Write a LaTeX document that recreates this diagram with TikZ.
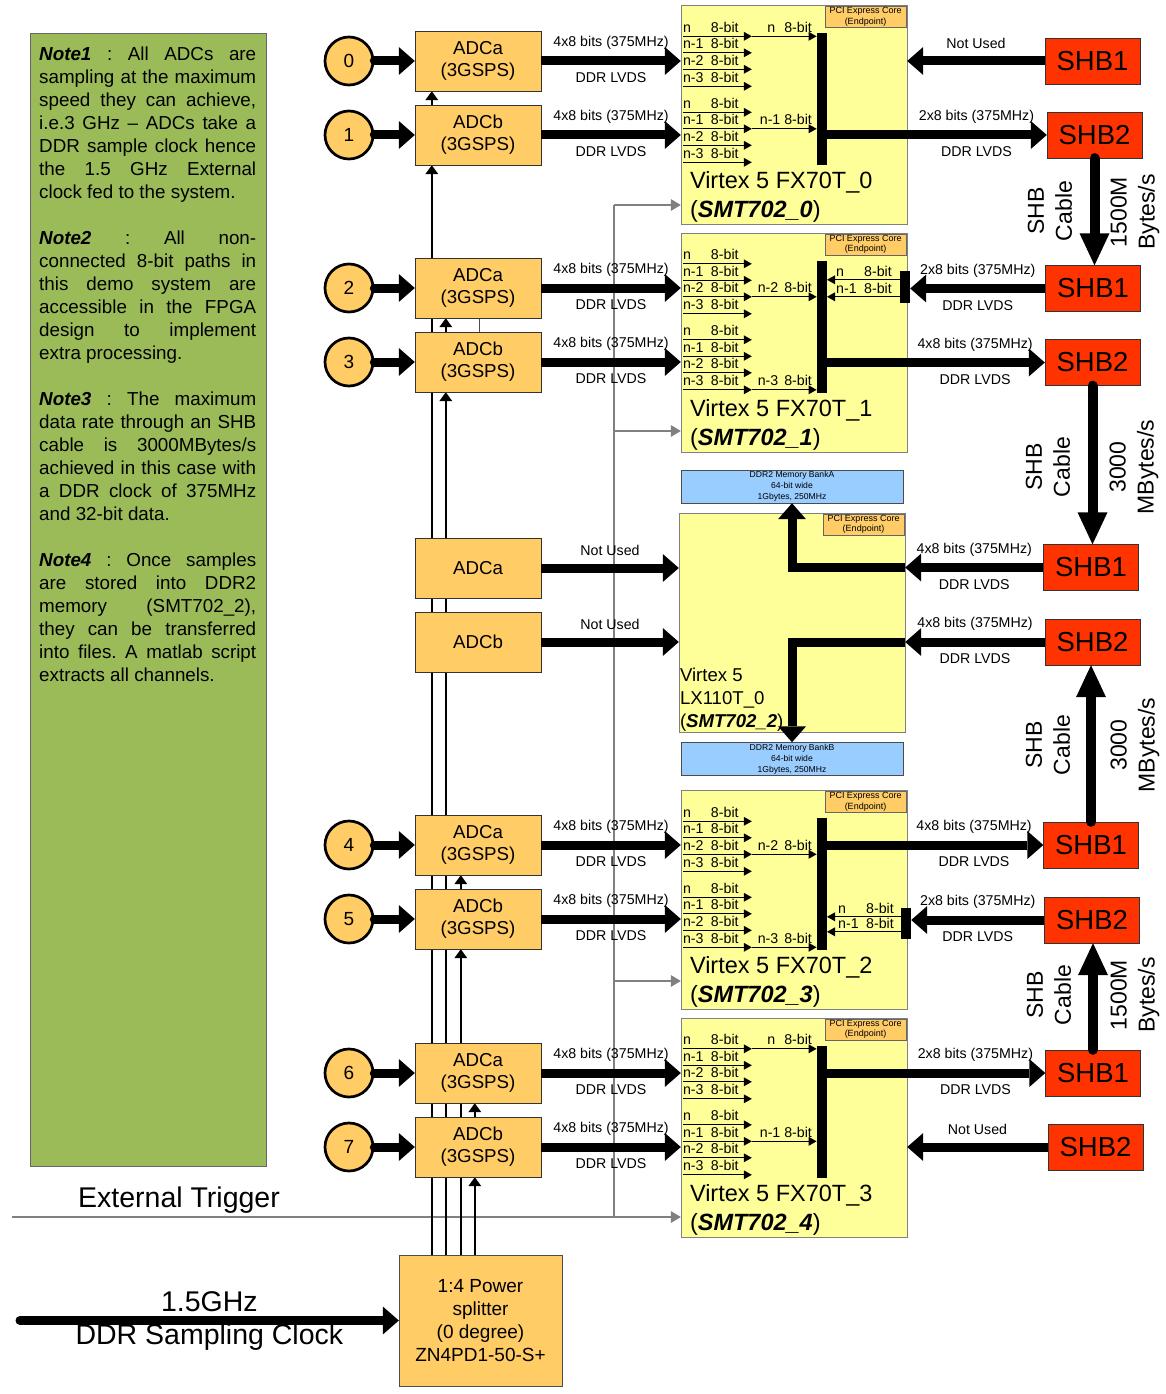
\documentclass[tikz,border=0pt]{standalone}
\usepackage{fontspec}
\setmainfont{Liberation Sans}
\usepackage{tikz}
\usetikzlibrary{arrows.meta,calc,backgrounds}
\definecolor{adcorange}{HTML}{FFCC66}
\definecolor{fpgayellow}{HTML}{FFFF99}
\definecolor{shbred}{HTML}{FF3300}
\definecolor{memblue}{HTML}{99CCFF}
\definecolor{notegreen}{HTML}{9BBB59}
\definecolor{wiregray}{HTML}{808080}
\newcommand\fsz[2]{\fontsize{#1}{#2}\selectfont}
\newcommand\bitlabel[1]{\makebox[28pt][l]{#1}8-bit}
\tikzset{
  adcbox/.style={draw=black!80, fill=adcorange, minimum width=126pt, minimum height=60pt,
                 align=center, font=\fsz{18.7}{22}},
  chan/.style={circle, draw, line width=2.7pt, fill=adcorange, minimum size=48pt,
               inner sep=0pt, font=\fsz{19}{22}},
  fpgabox/.style={draw=black!50, fill=fpgayellow, minimum width=226pt, minimum height=219pt},
  pcibox/.style={draw=black!60, fill=adcorange, minimum width=81pt, minimum height=21pt,
                 inner sep=0pt, align=center, font=\fsz{9}{10.5}},
  membox/.style={draw=black!70, fill=memblue, minimum width=222pt, minimum height=33pt,
                 inner sep=0pt, align=center, font=\fsz{8.6}{10.8}},
  shbbox/.style={draw=black!80, fill=shbred, minimum width=95pt, minimum height=46pt,
                 font=\fsz{27.5}{30}},
  splitbox/.style={draw=black!70, fill=adcorange, minimum width=163pt, minimum height=131pt,
                   align=center, font=\fsz{19}{23}},
  notepanel/.style={draw=black!60, fill=notegreen, minimum width=236pt, minimum height=1133pt},
  bar/.style={fill=black, minimum width=10pt, inner sep=0pt},
  bus/.style={line width=9pt, -{Triangle[width=28pt,length=16pt,line width=0pt]}},
  cable/.style={line width=10pt, line cap=round, -{Triangle[width=30pt,length=32pt,line width=0pt]}},
  lane/.style={line width=1.3pt, -{Triangle[width=9pt,length=8pt,line width=0pt]}},
  clk/.style={line width=2.6pt, -{Triangle[width=13pt,length=9pt,line width=0pt]}},
  trigline/.style={draw=wiregray, line width=2.2pt, -{Triangle[width=12pt,length=10pt,line width=0pt]}},
  graywire/.style={draw=wiregray, line width=2.2pt},
  lbl/.style={font=\fsz{14.2}{16}},
  bitlbl/.style={font=\fsz{14.2}{16}, inner sep=0pt},
  cablelbl/.style={rotate=90, align=center, font=\fsz{23}{28}},
  bigtxt/.style={font=\fsz{28.5}{31}},
  fpgatxt/.style={align=left, inner sep=0pt, font=\fsz{23.5}{29}}
}
\newcommand\fpgalanes[1]{%
  \foreach \dy/\nm in {31/n,47.5/n-1,64/n-2,81/n-3,107/n,123.5/n-1,140/n-2,157/n-3}{%
    \draw[lane] ($(#1.north west)+(2,\dy)$) -- ++(69,0);
    \node[bitlbl, anchor=base west] at ($(#1.north west)+(2,\dy-4)$) {\bitlabel{\nm}};
  }}

\begin{document}
\begin{tikzpicture}[x=1pt, y=-1pt]
  \useasboundingbox (0,0) rectangle (1166,1394);
  \def\xC{349} \def\xA{478}

  % Notes
  \node[notepanel] (notes) at (148,599.5) {};
  \node[anchor=north west, inner sep=0pt, text width=217pt, align=justify,
        font=\fsz{18.8}{23}\frenchspacing] (notetxt) at (39,47) {%
    \textbf{\textit{Note1}} : All ADCs are\linebreak
    sampling at the maximum\linebreak
    speed they can achieve,\linebreak
    i.e.3 GHz – ADCs take a\linebreak
    DDR sample clock hence\linebreak
    the 1.5 GHz External\linebreak
    clock fed to the system.\\[23pt]
    \textbf{\textit{Note2}} : All non-\linebreak
    connected 8-bit paths in\linebreak
    this demo system are\linebreak
    accessible in the FPGA\linebreak
    design to implement\linebreak
    extra processing.\\[23pt]
    \textbf{\textit{Note3}} : The maximum\linebreak
    data rate through an SHB\linebreak
    cable is 3000MBytes/s\linebreak
    achieved in this case with\linebreak
    a DDR clock of 375MHz\linebreak
    and 32-bit data.\\[23pt]
    \textbf{\textit{Note4}} : Once samples\linebreak
    are stored into DDR2\linebreak
    memory (SMT702\_2),\linebreak
    they can be transferred\linebreak
    into files. A matlab script\linebreak
    extracts all channels.};

  % FPGA boards
  \node[fpgabox] (f0) at (794,115) {};
  \node[fpgabox] (f1) at (794,342.5) {};
  \node[fpgabox] (fL) at (792,622.5) {};
  \node[fpgabox] (f2) at (794,900) {};
  \node[fpgabox] (f3) at (794,1127.5) {};
  \foreach \f in {f0,f1,fL,f2,f3}
    \node[pcibox, anchor=north east] (pci\f) at ($(\f.north east)+(-1,1)$) {PCI Express Core\\(Endpoint)};

  \node[fpgatxt, anchor=west] (t0) at ($(f0.north west)+(9,192)$) {Virtex 5 FX70T\_0\\(\textbf{\textit{SMT702\_0}})};
  \node[fpgatxt, anchor=west] (t1) at ($(f1.north west)+(9,192)$) {Virtex 5 FX70T\_1\\(\textbf{\textit{SMT702\_1}})};
  \node[fpgatxt, anchor=west] (t2) at ($(f2.north west)+(9,192)$) {Virtex 5 FX70T\_2\\(\textbf{\textit{SMT702\_3}})};
  \node[fpgatxt, anchor=west] (t3) at ($(f3.north west)+(9,192)$) {Virtex 5 FX70T\_3\\(\textbf{\textit{SMT702\_4}})};
  \node[anchor=west, align=left, inner sep=0pt, font=\fsz{18.6}{23}] (tL) at ($(fL.west)+(1,77)$)
    {Virtex 5\\LX110T\_0\\(\textbf{\textit{SMT702\_2}})};

  % DDR2 banks
  \node[membox] (bankA) at (792,486.5) {DDR2 Memory BankA\\64-bit wide\\1Gbytes, 250MHz};
  \node[membox] (bankB) at (792,759) {DDR2 Memory BankB\\64-bit wide\\1Gbytes, 250MHz};

  % lanes inside the FX70T parts
  \fpgalanes{f0} \fpgalanes{f1} \fpgalanes{f2} \fpgalanes{f3}
  \node[bar, minimum height=132pt] (b0) at ($(f0.north west)+(141,94)$) {};
  \node[bar, minimum height=132pt] (b1) at ($(f1.north west)+(141,94)$) {};
  \node[bar, minimum height=132pt] (b2) at ($(f2.north west)+(141,94)$) {};
  \node[bar, minimum height=132pt] (b3) at ($(f3.north west)+(141,94)$) {};
  \node[bar, minimum height=32pt] (r1) at (905,287) {};
  \node[bar, minimum height=31pt] (r2) at (906,923.5) {};

  \coordinate (c0a) at ($(f0.north west)+(71,31)$);
  \coordinate (c0b) at ($(f0.north west)+(71,123.5)$);
  \coordinate (c1a) at ($(f1.north west)+(71,64)$);
  \coordinate (c1b) at ($(f1.north west)+(71,157)$);
  \coordinate (c2a) at ($(f2.north west)+(71,64)$);
  \coordinate (c2b) at ($(f2.north west)+(71,157)$);
  \coordinate (c3a) at ($(f3.north west)+(71,31)$);
  \coordinate (c3b) at ($(f3.north west)+(71,123.5)$);
  \draw[lane] (c0a) -- (b0.west |- c0a) node[bitlbl, pos=1, anchor=base east, xshift=-4pt, yshift=4pt]{n\hspace{9pt}8-bit};
  \draw[lane] (c0b) -- (b0.west |- c0b) node[bitlbl, pos=1, anchor=base east, xshift=-4pt, yshift=4pt]{n-1 8-bit};
  \draw[lane] (c1a) -- (b1.west |- c1a) node[bitlbl, pos=1, anchor=base east, xshift=-4pt, yshift=4pt]{n-2\hspace{6pt}8-bit};
  \draw[lane] (c1b) -- (b1.west |- c1b) node[bitlbl, pos=1, anchor=base east, xshift=-4pt, yshift=4pt]{n-3\hspace{6pt}8-bit};
  \draw[lane] (c2a) -- (b2.west |- c2a) node[bitlbl, pos=1, anchor=base east, xshift=-4pt, yshift=4pt]{n-2\hspace{6pt}8-bit};
  \draw[lane] (c2b) -- (b2.west |- c2b) node[bitlbl, pos=1, anchor=base east, xshift=-4pt, yshift=4pt]{n-3\hspace{6pt}8-bit};
  \draw[lane] (c3a) -- (b3.west |- c3a) node[bitlbl, pos=1, anchor=base east, xshift=-4pt, yshift=4pt]{n\hspace{9pt}8-bit};
  \draw[lane] (c3b) -- (b3.west |- c3b) node[bitlbl, pos=1, anchor=base east, xshift=-4pt, yshift=4pt]{n-1 8-bit};

  % lanes coming back from the right bars
  \coordinate (q1a) at ($(r1.north west)+(0,9)$);
  \coordinate (q1b) at ($(r1.north west)+(0,26)$);
  \coordinate (q2a) at ($(r2.north west)+(0,9)$);
  \coordinate (q2b) at ($(r2.north west)+(0,24)$);
  \draw[lane] (q1a) -- (b1.east |- q1a);
  \draw[lane] (q1b) -- (b1.east |- q1b);
  \draw[lane] (q2a) -- (b2.east |- q2a);
  \draw[lane] (q2b) -- (b2.east |- q2b);
  \node[bitlbl, anchor=base west] (k1a) at (836,276) {\bitlabel{n}};
  \node[bitlbl, anchor=base west] (k1b) at (836,293) {\bitlabel{n-1}};
  \node[bitlbl, anchor=base west] (k2a) at (838,913) {\bitlabel{n}};
  \node[bitlbl, anchor=base west] (k2b) at (838,928) {\bitlabel{n-1}};

  % ADCs and channels
  \foreach \i/\y/\ab in {0/61/a,1/135/b,2/288/a,3/362/b,4/845/a,5/919/b,6/1073/a,7/1147/b}{
    \node[adcbox] (adc\i) at (\xA,\y) {ADC\ab\\(3GSPS)};
    \node[chan] (ch\i) at (\xC,\y) {\i};
    \draw[bus, line cap=round] (ch\i) -- (adc\i);
  }
  \node[adcbox] (adcm0) at (\xA,568) {ADCa};
  \node[adcbox] (adcm1) at (\xA,642) {ADCb};

  \foreach \i/\f in {0/f0,1/f0,2/f1,3/f1,4/f2,5/f2,6/f3,7/f3}
    \draw[bus] (adc\i) -- (\f.west |- adc\i)
      node[lbl, midway, yshift=18pt]{4x8 bits (375MHz)}
      node[lbl, midway, yshift=-17pt]{DDR LVDS};
  \draw[bus] (adcm0) -- (fL.west |- adcm0) node[lbl, midway, yshift=18pt]{Not Used};
  \draw[bus] (adcm1) -- (fL.west |- adcm1) node[lbl, midway, yshift=18pt]{Not Used};

  % SHB connectors
  \node[shbbox] (shbA1) at (1092.5,61) {SHB1};
  \node[shbbox] (shbA2) at (1094.5,135) {SHB2};
  \node[shbbox] (shbB1) at (1093,288.5) {SHB1};
  \node[shbbox] (shbB2) at (1092.5,362.5) {SHB2};
  \node[shbbox] (shbC1) at (1091,567.5) {SHB1};
  \node[shbbox] (shbC2) at (1092.5,642) {SHB2};
  \node[shbbox] (shbD1) at (1091,845) {SHB1};
  \node[shbbox] (shbD2) at (1092,920) {SHB2};
  \node[shbbox] (shbE1) at (1093,1073) {SHB1};
  \node[shbbox] (shbE2) at (1095.5,1147) {SHB2};

  \draw[bus] (shbA1) -- (f0.east |- shbA1) node[lbl, midway, yshift=18pt]{Not Used};
  \draw[bus] (b0.east |- shbA2) -- (shbA2)
    node[lbl, pos=.68, yshift=18pt]{2x8 bits (375MHz)} node[lbl, pos=.68, yshift=-17pt]{DDR LVDS};
  \draw[bus] (shbB1) -- (r1.east |- shbB1)
    node[lbl, midway, yshift=18pt]{2x8 bits (375MHz)} node[lbl, midway, yshift=-17pt]{DDR LVDS};
  \draw[bus] (b1.east |- shbB2) -- (shbB2)
    node[lbl, pos=.68, yshift=18pt]{4x8 bits (375MHz)} node[lbl, pos=.68, yshift=-17pt]{DDR LVDS};
  \draw[bus] (shbC1) -- (fL.east |- shbC1)
    node[lbl, midway, yshift=18pt]{4x8 bits (375MHz)} node[lbl, midway, yshift=-17pt]{DDR LVDS};
  \draw[bus] (shbC2) -- (fL.east |- shbC2)
    node[lbl, midway, yshift=18pt]{4x8 bits (375MHz)} node[lbl, midway, yshift=-17pt]{DDR LVDS};
  \draw[bus] (b2.east |- shbD1) -- (shbD1)
    node[lbl, pos=.68, yshift=18pt]{4x8 bits (375MHz)} node[lbl, pos=.68, yshift=-17pt]{DDR LVDS};
  \draw[bus] (shbD2) -- (r2.east |- shbD2)
    node[lbl, midway, yshift=18pt]{2x8 bits (375MHz)} node[lbl, midway, yshift=-17pt]{DDR LVDS};
  \draw[bus] (b3.east |- shbE1) -- (shbE1)
    node[lbl, pos=.68, yshift=18pt]{2x8 bits (375MHz)} node[lbl, pos=.68, yshift=-17pt]{DDR LVDS};
  \draw[bus] (shbE2) -- (f3.east |- shbE2) node[lbl, midway, yshift=18pt]{Not Used};

  % memory paths in LX110T
  \draw[bus] (fL.east |- shbC1) -- (bankA.south |- shbC1) -- (bankA.south);
  \draw[bus] (fL.east |- shbC2) -- (bankB.north |- shbC2) -- (bankB.north);

  % SHB cables
  \draw[cable] (shbA2) -- (shbA2 |- shbB1.north);
  \draw[cable] (shbB2) -- (shbB2 |- shbC1.north);
  \draw[cable] (shbD1) -- (shbD1 |- shbC2.south);
  \draw[cable] (shbE1) -- (shbE1 |- shbD2.south);
  \node[cablelbl] (cl0) at (1050,211) {SHB\\Cable};
  \node[cablelbl] (cr0) at (1135,212) {1500M\\Bytes/s};
  \node[cablelbl] (cl1) at (1048,467) {SHB\\Cable};
  \node[cablelbl] (cr1) at (1134,467) {3000\\MBytes/s};
  \node[cablelbl] (cl2) at (1048,745) {SHB\\Cable};
  \node[cablelbl] (cr2) at (1135,745) {3000\\MBytes/s};
  \node[cablelbl] (cl3) at (1049,995) {SHB\\Cable};
  \node[cablelbl] (cr3) at (1135,995) {1500M\\Bytes/s};

  % clock and trigger
  \node[splitbox] (split) at (480.5,1320.5) {1:4 Power\\splitter\\(0 degree)\\ZN4PD1-50-S+};
  \coordinate (clkin) at (20,1320.5);
  \draw[bus, line cap=round] (clkin) -- (split.west)
    node[bigtxt, midway, yshift=19pt]{1.5GHz}
    node[bigtxt, midway, yshift=-17pt]{DDR Sampling Clock};
  \node[bigtxt] (trgtxt) at (179,1200) {External Trigger};

  \path (split.north west) ++(33,0) coordinate (ck0) ++(14,0) coordinate (ck1)
        ++(15,0) coordinate (ck2) ++(14,0) coordinate (ck3);
  \coordinate (trg) at (12,1217);
  \coordinate (tv) at (614,1217);
  \coordinate (tv0) at (614,205);
  \coordinate (tv1) at (614,431);
  \coordinate (tv2) at (614,981);

  \begin{pgfonlayer}{background}
    \draw[graywire] (tv) -- (tv0);
    \draw[trigline] (trg) -- (f3.west |- trg);
    \draw[trigline] (tv0) -- (f0.west |- tv0);
    \draw[trigline] (tv1) -- (f1.west |- tv1);
    \draw[trigline] (tv2) -- (f2.west |- tv2);
    \draw[clk] (ck0) -- (ck0 |- adc1.south);
    \draw[clk] (ck0 |- adc1.north) -- (ck0 |- adc0.south);
    \draw[clk] (ck1) -- (ck1 |- adc3.south);
    \draw[clk] (ck1 |- adc3.north) -- (ck1 |- adc2.south);
    \draw[clk] (ck2) -- (ck2 |- adc5.south);
    \draw[clk] (ck2 |- adc5.north) -- (ck2 |- adc4.south);
    \draw[clk] (ck3) -- (ck3 |- adc7.south);
    \draw[clk] (ck3 |- adc7.north) -- (ck3 |- adc6.south);
    \draw[black!70] (adc2.south -| 479,0) -- (adc3.north -| 479,0);
  \end{pgfonlayer}
\end{tikzpicture}
\end{document}
